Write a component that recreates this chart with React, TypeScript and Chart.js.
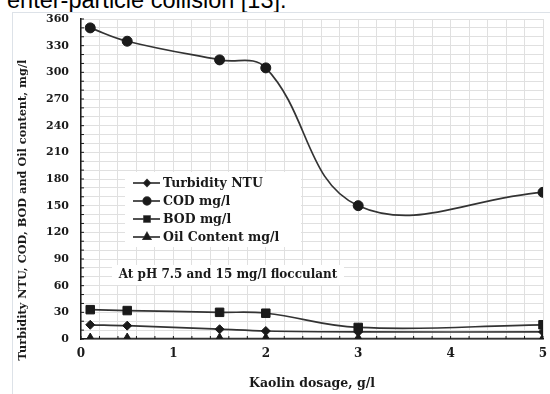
import React, { useEffect, useRef } from "react";
import { Chart, registerables } from "chart.js";
import { drawPoint } from "chart.js/helpers";
Chart.register(...registerables);

const dosage = [0.1, 0.5, 1.5, 2, 3, 5];
const turbidity = [16, 15, 11, 9, 8, 8];
const cod = [350, 335, 314, 305, 150, 165];
const bod = [33, 32, 30, 29, 13, 16];
const oilContent = [0.5, 0.5, 0.5, 0.5, 0.5, 0.5];
const seriesNames = ["Turbidity NTU", "COD mg/l", "BOD mg/l", "Oil Content mg/l"];
const pointStyles = ["rectRot", "circle", "rect", "triangle"];
const pointRadii = [4.5, 5, 6, 5.5];
const legendRadii = [3.2, 3.8, 4.2, 4.2];
const xTickLabels = ["0", "1", "2", "3", "4", "5"];
const yTickLabels = ["0", "30", "60", "90", "120", "150", "180", "210", "240", "270", "300", "330", "360"];
const xTitle = "Kaolin dosage, g/l";
const yTitle = "Turbidity NTU, COD, BOD and Oil content, mg/l";
const note = "At pH 7.5 and 15 mg/l flocculant";
const caption = "enter-particle collision [13].";

const FONT = "'DejaVu Serif', serif";
const INK = "#1a1a1a";
const LINE = "#333333";

const overlay = {
  id: "overlay",
  afterDatasetsDraw(chart: any) {
    const ctx = chart.ctx;
    const xs = chart.scales.x;
    const ys = chart.scales.y;
    const area = chart.chartArea;
    ctx.save();
    // inside minor ticks
    ctx.strokeStyle = INK;
    ctx.lineWidth = 1;
    for (let i = 0; i <= 25; i++) {
      const px = xs.getPixelForValue(i * 0.2);
      ctx.beginPath();
      ctx.moveTo(px, area.bottom);
      ctx.lineTo(px, area.bottom - 3);
      ctx.stroke();
    }
    for (let i = 0; i <= 36; i++) {
      const py = ys.getPixelForValue(i * 10);
      ctx.beginPath();
      ctx.moveTo(area.left - 1, py);
      ctx.lineTo(area.left + 3, py);
      ctx.stroke();
    }
    // legend box
    ctx.fillStyle = "#ffffff";
    ctx.fillRect(125, 172, 176, 75);
    const rows = [183, 201, 219, 237];
    chart.data.datasets.forEach((ds: any, i: number) => {
      const y = rows[i];
      ctx.strokeStyle = LINE;
      ctx.lineWidth = 1.7;
      ctx.beginPath();
      ctx.moveTo(133, y);
      ctx.lineTo(160, y);
      ctx.stroke();
      ctx.fillStyle = INK;
      drawPoint(ctx, { pointStyle: pointStyles[i], radius: legendRadii[i], rotation: 0, borderWidth: 1 } as any, 147, y);
      ctx.fill();
      ctx.fillStyle = INK;
      ctx.font = `bold 12.5px ${FONT}`;
      ctx.textAlign = "left";
      ctx.textBaseline = "middle";
      ctx.fillText(ds.label, 163, y + 1);
    });
    // note
    ctx.fillStyle = "#ffffff";
    ctx.fillRect(112, 265, 232, 20);
    ctx.fillStyle = INK;
    ctx.font = `bold 12px ${FONT}`;
    ctx.textAlign = "center";
    ctx.textBaseline = "middle";
    ctx.fillText(note, 228, 275);
    // y title
    ctx.translate(23, 210);
    ctx.rotate(-Math.PI / 2);
    ctx.font = `bold 11.3px ${FONT}`;
    ctx.textAlign = "center";
    ctx.textBaseline = "middle";
    ctx.fillText(yTitle, 0, 0);
    ctx.restore();
  },
};

export default function App() {
  const ref = useRef<HTMLCanvasElement>(null);
  useEffect(() => {
    const series = [turbidity, cod, bod, oilContent];
    const chart = new Chart(ref.current!, {
      type: "line",
      data: {
        datasets: series.map((vals, i) => ({
          label: seriesNames[i],
          data: dosage.map((d, j) => ({ x: d, y: vals[j] })),
          borderColor: LINE,
          backgroundColor: INK,
          pointBorderColor: INK,
          borderWidth: 1.7,
          pointStyle: pointStyles[i] as any,
          pointRadius: pointRadii[i],
          pointBorderWidth: 1,
          tension: 0.4,
          fill: false,
        })),
      },
      options: {
        animation: false,
        responsive: false,
        layout: { padding: { top: 19, right: 0, left: 0, bottom: 0 } },
        plugins: { legend: { display: false }, tooltip: { enabled: false } },
        scales: {
          x: {
            type: "linear",
            min: 0,
            max: 5,
            afterFit: (s: any) => { s.height = 55; s.paddingRight = 1; },
            ticks: {
              stepSize: 0.2,
              autoSkip: false,
              maxRotation: 0,
              padding: 8,
              color: INK,
              font: { family: FONT, weight: "bold", size: 12 },
              callback: (v: any) => {
                const n = Number(v);
                const r = Math.round(n);
                return Math.abs(n - r) < 1e-6 ? xTickLabels[r] : "";
              },
            },
            grid: { color: "#e0e0e0", lineWidth: 1, drawTicks: false },
            border: { display: true, color: INK, width: 1.5 },
            title: {
              display: true,
              text: xTitle,
              color: INK,
              font: { family: FONT, weight: "bold", size: 12.5 },
              padding: { top: 3, bottom: 3 },
            },
          },
          y: {
            min: 0,
            max: 360,
            afterFit: (s: any) => { s.width = 81; },
            ticks: {
              stepSize: 10,
              autoSkip: false,
              padding: 12,
              color: INK,
              font: { family: FONT, weight: "bold", size: 11 },
              callback: (v: any) => {
                const n = Math.round(Number(v));
                return n % 30 === 0 ? yTickLabels[n / 30] : "";
              },
            },
            grid: { color: "#e0e0e0", lineWidth: 1, drawTicks: false },
            border: { display: true, color: INK, width: 1.5 },
            title: { display: false },
          },
        },
      },
      plugins: [overlay],
    });
    return () => chart.destroy();
  }, []);

  return (
    <div style={{ position: "absolute", left: 0, top: 0, width: 550, height: 394, overflow: "hidden", background: "#fff" }}>
      <div
        style={{
          position: "absolute",
          left: 7,
          top: -11,
          fontFamily: "'Liberation Sans', sans-serif",
          fontSize: 23.5,
          lineHeight: "23px",
          color: "#000",
          whiteSpace: "nowrap",
        }}
      >
        {caption}
      </div>
      <div style={{ position: "absolute", left: 12, top: 12, width: 560, height: 400, border: "1px solid #dde2e8" }} />
      <canvas ref={ref} width={550} height={394} style={{ position: "absolute", left: 0, top: 0 }} />
    </div>
  );
}
